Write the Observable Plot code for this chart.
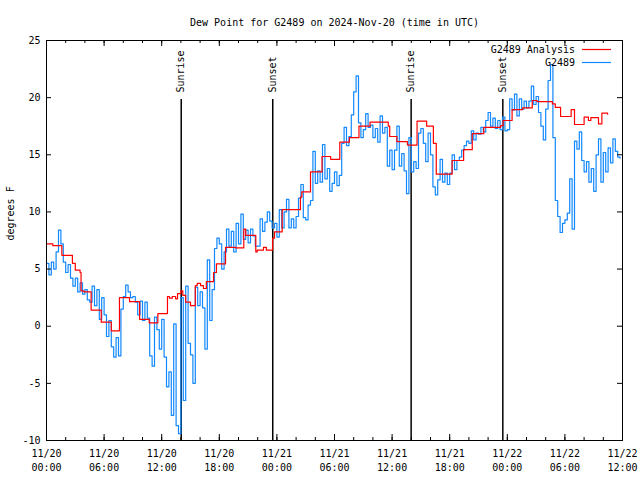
<!DOCTYPE html>
<html><head><meta charset="utf-8">
<script src="https://cdn.jsdelivr.net/npm/d3@7"></script>
<script src="https://cdn.jsdelivr.net/npm/@observablehq/plot@0.6"></script>
<style>body{margin:0;background:#fff} svg{display:block}</style>
</head><body><div id="chart"></div>
<script>
const titleText = "Dew Point for G2489 on 2024-Nov-20 (time in UTC)";
const yLabelText = "degrees F";
const startTime = "2024-11-20T00:00:00Z";
const endHours = 60;

// Analysis (red step line): hours since start and dew point (F)
const analysisHours = [0, 0.66, 1.6, 2.7, 3.0, 3.5, 3.6, 3.9, 4.65, 5.7,
  6.75, 7.6, 8.65, 9.7, 10.7, 11.6, 12.6, 12.8, 13.1, 13.45,
  13.65, 14.0, 14.2, 14.5, 15.0, 15.5, 15.7, 16.05, 16.35, 16.65,
  17.4, 17.7, 18.65, 19.7, 20.55, 20.75, 21.8, 21.95, 22.6, 22.9,
  23.55, 23.75, 24.55, 26.45, 26.6, 27.5, 28.7, 29.6, 30.55, 31.55,
  32.55, 33.7, 35.6, 35.75, 36.5, 37.6, 38.6, 39.6, 40.3, 40.6,
  42.25, 43.45, 44.35, 45.55, 47.3, 47.55, 48.5, 49.6, 50.6, 51.1,
  52.7, 53.0, 53.55, 54.65, 55.0, 56.0, 56.45, 56.7, 57.5, 57.85, 58.45];
const analysisValues = [7.2, 7.05, 6.2, 5.5, 4.9, 4.7, 3.1, 3.0, 1.4, 0.35,
  -0.4, 2.5, 2.15, 0.6, 0.3, 1.1, 2.6, 2.45, 2.6, 2.4,
  2.85, 3.1, 2.7, 2.1, 1.8, 3.55, 3.75, 3.55, 3.3, 3.9,
  4.7, 5.45, 6.9, 6.85, 8.5, 7.95, 6.5, 6.65, 6.9, 6.65,
  7.7, 8.25, 10.2, 11.3, 11.75, 13.5, 14.85, 14.6, 16.1, 16.5,
  17.5, 17.85, 17.5, 16.6, 16.15, 15.85, 17.95, 17.5, 16.0, 13.3,
  14.5, 15.45, 16.85, 17.4, 17.55, 18.0, 18.95, 19.1, 19.75, 19.65,
  19.45, 19.15, 18.35, 18.95, 17.65, 18.3, 18.0, 18.25, 17.7, 18.65, 18.55];

// Station observations (blue), one every 15 minutes from the start
const obsStepMinutes = 15;
const obsValues = [
  5.5, 4.5, 5.6, 5.0,   6.5, 8.4, 7.2, 5.6,   4.7, 5.4, 4.2, 3.5,   4.2, 3.0, 3.8, 2.8,
  3.2, 2.3, 2.1, 3.5,   1.8, 3.2, 0.6, 2.5,   1.0, -0.9, 0.5, -1.8, -2.7, -1.0, -2.6, 1.5,
  2.6, 3.6, 3.0, 2.5,   2.6, 2.1, 1.0, 2.2,   0.5, 2.1, 0.7, -2.6,  -3.5, 0.8, -0.3, -2.0,
  0.6, -2.7, -5.3, -4.0, -7.8, 0.2, -8.7, -9.4, 2.5, -6.5, 3.5, -1.5, -2.5, -5.0, 3.4, 1.8,
  3.0, 1.6, -2.0, 5.8,  0.5, 3.2, 6.8, 7.7,   7.2, 5.0, 6.5, 8.5,   7.0, 8.3, 6.5, 9.0,
  7.2, 9.8, 7.6, 8.4,   7.3, 8.5, 7.9, 7.0,   7.0, 9.4, 8.3, 9.1,   10.0, 9.2, 8.6, 9.0,
  7.8, 10.2, 8.6, 10.0, 11.1, 8.6, 9.4, 8.6,  9.6, 11.2, 12.4, 9.5, 9.3, 10.6, 11.0, 15.3,
  12.5, 13.6, 12.6, 15.9, 12.9, 13.8, 11.8, 12.5, 13.5, 12.3, 13.2, 16.0, 17.4, 15.8, 16.6, 18.5,
  20.5, 21.9, 17.8, 16.5, 17.2, 18.6, 17.4, 17.6, 16.5, 17.3, 16.1, 18.4, 16.9, 17.4, 14.0, 15.4,
  13.7, 15.4, 17.5, 14.0, 15.1, 13.6, 11.6, 16.5, 13.5, 14.4, 13.8, 16.9, 17.3, 16.0, 14.4, 16.9,
  15.0, 12.2, 11.5, 12.8, 14.6, 12.6, 13.4, 12.4, 13.4, 15.0, 13.7, 14.5, 14.8, 15.4, 15.8, 16.2,
  16.0, 17.1, 16.3, 16.9, 16.8, 17.4, 17.0, 18.0, 18.7, 17.5, 18.2, 17.3, 18.0, 17.2, 18.3, 17.1,
  17.2, 19.9, 18.9, 20.3, 18.4, 19.9, 19.0, 19.7, 19.1, 19.7, 21.0, 19.4, 20.1, 18.7, 17.5, 16.3,
  19.0, 21.5, 22.9, 16.5, 11.0, 9.6, 8.2, 9.0,  9.3, 9.9, 12.9, 8.5,   16.2, 15.5, 17.0, 14.5,
  13.5, 14.4, 12.6, 13.8, 11.8, 15.0, 16.4, 12.6, 15.2, 13.5, 15.6, 14.3, 16.4, 15.3, 14.8, 14.7];

const sunEventLabels = ["Sunrise", "Sunset", "Sunrise", "Sunset"];
const sunEventTimes = ["2024-11-20T14:02:00Z", "2024-11-20T23:34:00Z", "2024-11-21T13:59:00Z", "2024-11-21T23:32:00Z"];
const yTicks = [-10, -5, 0, 5, 10, 15, 20, 25];
const seriesNames = ["G2489 Analysis", "G2489"];
const seriesColors = ["#ff0000", "#1188ff"];

const t0 = new Date(startTime);
const atHour = h => new Date(t0.getTime() + h * 3600e3);
const analysis = analysisHours.map((h, i) => ({time: atHour(h), value: analysisValues[i]}));
const obs = obsValues.map((v, i) => ({time: new Date(t0.getTime() + i * obsStepMinutes * 60e3), value: v}));
const sunEvents = sunEventTimes.map((s, i) => ({time: new Date(s), label: sunEventLabels[i]}));
const tEnd = atHour(endHours);
const majorTicks = d3.utcHour.every(6).range(t0, atHour(endHours + 0.01));
const minorTicks = d3.utcHour.every(2).range(t0, atHour(endHours + 0.01));
const fmtDay = d3.utcFormat("%m/%d"), fmtTime = d3.utcFormat("%H:%M");

const W = 640, H = 480, mL = 46, mR = 18, mT = 40, mB = 40;
const fw = W - mL - mR, fh = H - mT - mB;
const font = "DejaVu Sans Mono, monospace";

const plot = Plot.plot({
  width: W, height: H, marginLeft: mL, marginRight: mR, marginTop: mT, marginBottom: mB,
  style: {fontFamily: font, fontSize: "10px", background: "#fff", color: "#000", overflow: "visible"},
  x: {type: "utc", domain: [t0, tEnd], axis: null},
  y: {domain: [-10, 25], axis: null},
  marks: [
    Plot.ruleX(sunEvents, {x: "time", stroke: "#000", strokeWidth: 1.5, insetTop: 59}),
    Plot.text(sunEvents, {x: "time", text: "label", frameAnchor: "top", dy: 52, dx: -4, rotate: -90, textAnchor: "start", fill: "#000"}),
    Plot.line(obs, {x: "time", y: "value", stroke: seriesColors[1], strokeWidth: 1.2, curve: "step-after"}),
    Plot.line(analysis, {x: "time", y: "value", stroke: seriesColors[0], strokeWidth: 1.2, curve: "step-after"}),
    Plot.frame({stroke: "#000"}),
    Plot.ruleX(majorTicks, {x: d => d, insetTop: fh - 6, stroke: "#000"}),
    Plot.ruleX(majorTicks, {x: d => d, insetBottom: fh - 6, stroke: "#000"}),
    Plot.ruleX(minorTicks, {x: d => d, insetTop: fh - 3, stroke: "#000"}),
    Plot.ruleX(minorTicks, {x: d => d, insetBottom: fh - 3, stroke: "#000"}),
    Plot.ruleY(yTicks, {y: d => d, insetRight: fw - 5, stroke: "#000"}),
    Plot.ruleY(yTicks, {y: d => d, insetLeft: fw - 5, stroke: "#000"}),
    Plot.text(majorTicks, {x: d => d, text: d => fmtDay(d) + "\n" + fmtTime(d), frameAnchor: "bottom", dy: 7, lineAnchor: "top", lineHeight: 1.4, fill: "#000"}),
    Plot.text(yTicks, {y: d => d, text: d => String(d), frameAnchor: "left", dx: -6, textAnchor: "end", fill: "#000"}),
    Plot.text([yLabelText], {text: d => d, frameAnchor: "left", dx: -36, rotate: -90, fill: "#000"}),
    Plot.text([titleText], {text: d => d, frameAnchor: "top", dy: -22, fill: "#000"})
  ]
});

// Legend (top right, inside the frame)
const svg = d3.select(plot);
const lg = svg.append("g").attr("font-family", font).attr("font-size", 10);
seriesNames.forEach((name, i) => {
  const y = 49.5 + i * 13;
  lg.append("text").attr("x", 575).attr("y", y).attr("text-anchor", "end").attr("dominant-baseline", "middle").attr("fill", "#000").text(name);
  lg.append("line").attr("x1", 582).attr("x2", 611).attr("y1", y).attr("y2", y).attr("stroke", seriesColors[i]).attr("stroke-width", 1.2);
});

document.getElementById("chart").appendChild(plot);
</script>
</body></html>
